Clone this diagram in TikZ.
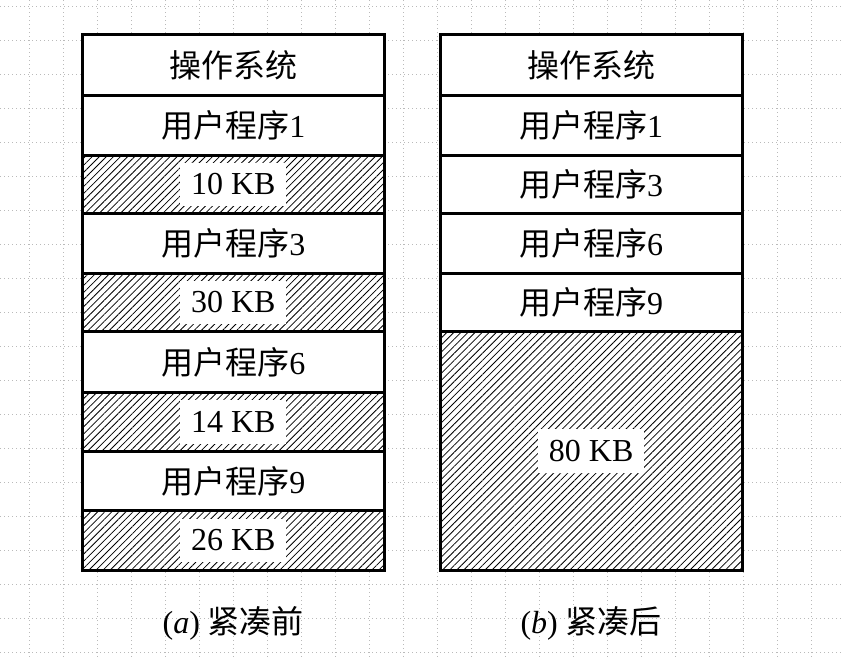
\documentclass[tikz,border=0pt]{standalone}
\usepackage{fontspec}
\setmainfont{Liberation Serif}
\newfontfamily\cjk{Noto Sans CJK SC}
\usetikzlibrary{patterns.meta}
\newcommand\zhtext[1]{{\cjk #1}}

\begin{document}
\begin{tikzpicture}[x=1pt,y=-1pt,
  gridline/.style={draw=black!27, line width=1.1pt, dash pattern=on 1.2pt off 2.8pt},
  cell/.style={draw=black, fill=white, line width=3pt, inner sep=0pt,
    font=\fontsize{32}{38}\selectfont},
  leftcol/.style={cell, minimum width=301.5pt},
  rightcol/.style={cell, minimum width=302.3pt},
  hatched/.style={preaction={fill=white},
    pattern={Lines[angle=45,distance=5pt,line width=0.8pt]}},
  sizelabel/.style={fill=white, inner xsep=11pt, inner ysep=11pt,
    font=\fontsize{32}{38}\selectfont},
  caption/.style={inner sep=0pt, font=\fontsize{32}{38}\selectfont},
]
\useasboundingbox (0,0) rectangle (842,659);
\fill[white] (0,0) rectangle (842,659);

% dotted background grid
\foreach \i in {0,...,23} \draw[gridline] ({29.3+34*\i},0) -- ({29.3+34*\i},659);
\foreach \j in {0,...,19} \draw[gridline] (0,{6.3+34*\j}) -- (842,{6.3+34*\j});

% (a) memory before compaction
\node[leftcol, minimum height=61pt] (l1) at (233.25,65)    {\zhtext{操作系统}};
\node[leftcol, minimum height=60pt] (l2) at (233.25,125.5) {\zhtext{用户程序}1};
\node[leftcol, hatched, minimum height=58pt] (l3) at (233.25,184.5) {};
\node[leftcol, minimum height=60pt] (l4) at (233.25,243.5) {\zhtext{用户程序}3};
\node[leftcol, hatched, minimum height=58pt] (l5) at (233.25,302.5) {};
\node[leftcol, minimum height=61pt] (l6) at (233.25,362)   {\zhtext{用户程序}6};
\node[leftcol, hatched, minimum height=59pt] (l7) at (233.25,422)   {};
\node[leftcol, minimum height=59pt] (l8) at (233.25,481)   {\zhtext{用户程序}9};
\node[leftcol, hatched, minimum height=60pt] (l9) at (233.25,540.5) {};

\node[sizelabel] (f1) at (l3.center) {10 KB};
\node[sizelabel] (f2) at (l5.center) {30 KB};
\node[sizelabel] (f3) at (l7.center) {14 KB};
\node[sizelabel] (f4) at (l9.center) {26 KB};

% (b) memory after compaction
\node[rightcol, minimum height=61pt] (r1) at (591.15,65)    {\zhtext{操作系统}};
\node[rightcol, minimum height=60pt] (r2) at (591.15,125.5) {\zhtext{用户程序}1};
\node[rightcol, minimum height=58pt] (r3) at (591.15,184.5) {\zhtext{用户程序}3};
\node[rightcol, minimum height=60pt] (r4) at (591.15,243.5) {\zhtext{用户程序}6};
\node[rightcol, minimum height=58pt] (r5) at (591.15,302.5) {\zhtext{用户程序}9};
\node[rightcol, hatched, minimum height=239pt] (r6) at (591.15,451) {};

\node[sizelabel] (g1) at (r6.center) {80 KB};

% captions
\node[caption] (capa) at (233.25,623) {(\textit{a}) \zhtext{紧凑前}};
\node[caption] (capb) at (591.15,623) {(\textit{b}) \zhtext{紧凑后}};
\end{tikzpicture}
\end{document}
